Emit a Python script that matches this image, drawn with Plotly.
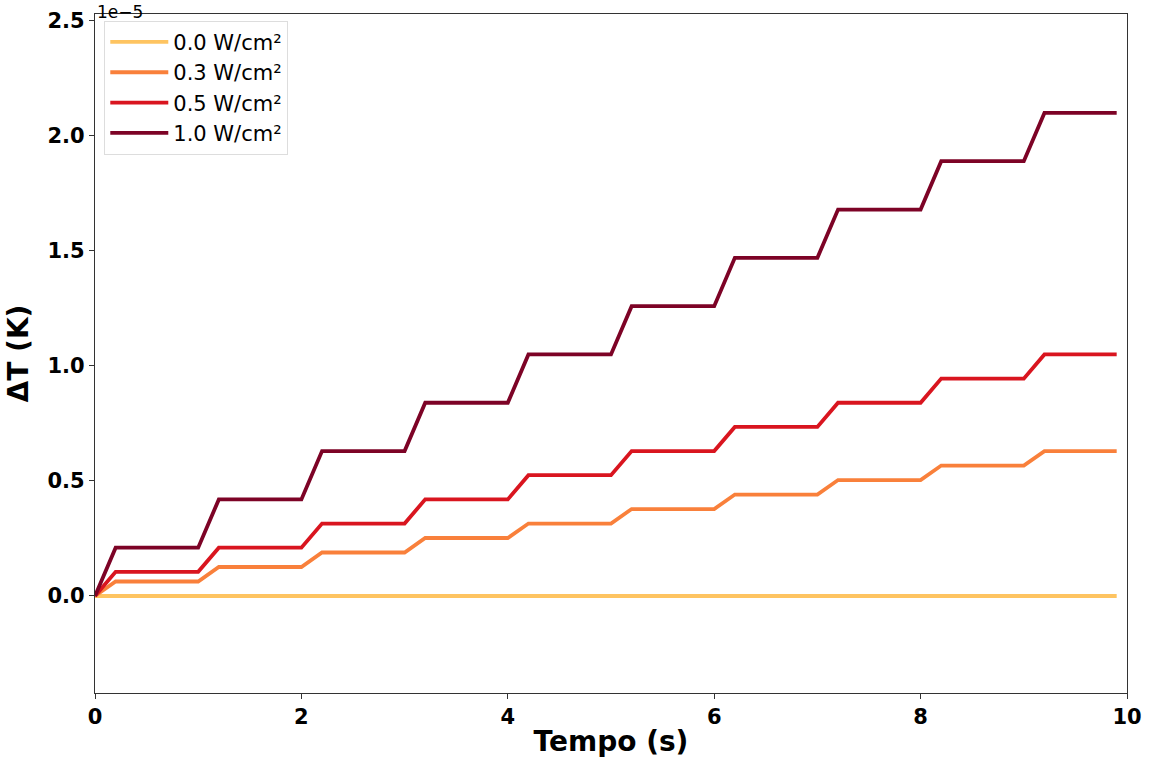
import plotly.graph_objects as go

# time samples (s)
tempo = [0.0, 0.2, 1.0, 1.2, 2.0, 2.2, 3.0, 3.2, 4.0, 4.2, 5.0, 5.2,
         6.0, 6.2, 7.0, 7.2, 8.0, 8.2, 9.0, 9.2, 9.9]

# ΔT values in units of 1e-5 K
dt_00 = [0.0] * 21
dt_03 = [0.0, 0.063, 0.063, 0.126, 0.126, 0.189, 0.189, 0.252, 0.252, 0.315, 0.315,
         0.378, 0.378, 0.441, 0.441, 0.504, 0.504, 0.567, 0.567, 0.630, 0.630]
dt_05 = [0.0, 0.105, 0.105, 0.210, 0.210, 0.315, 0.315, 0.420, 0.420, 0.525, 0.525,
         0.630, 0.630, 0.735, 0.735, 0.840, 0.840, 0.945, 0.945, 1.050, 1.050]
dt_10 = [0.0, 0.21, 0.21, 0.42, 0.42, 0.63, 0.63, 0.84, 0.84, 1.05, 1.05,
         1.26, 1.26, 1.47, 1.47, 1.68, 1.68, 1.89, 1.89, 2.10, 2.10]

labels = ["0.0 W/cm²", "0.3 W/cm²", "0.5 W/cm²", "1.0 W/cm²"]
series = [dt_00, dt_03, dt_05, dt_10]
colors = ["#fec461", "#f9803b", "#d9151f", "#7d0326"]

fig = go.Figure()
for lab, ys, c in zip(labels, series, colors):
    fig.add_trace(go.Scatter(x=tempo, y=ys, mode="lines", name=lab,
                             line=dict(color=c, width=3.8)))

axis_common = dict(
    showline=True, linecolor="#333333", linewidth=1.2, mirror=True,
    ticks="outside", ticklen=5, tickwidth=1.2, tickcolor="#333333",
    showgrid=False, zeroline=False, automargin=False,
    tickfont=dict(family="DejaVu Sans", size=21, color="black", weight="bold"),
)

fig.update_layout(
    width=1154, height=758,
    paper_bgcolor="white", plot_bgcolor="white",
    margin=dict(l=95, r=27, t=14, b=65),
    showlegend=True,
    legend=dict(x=0.009, y=0.99, xanchor="left", yanchor="top",
                bgcolor="rgba(255,255,255,0.9)", bordercolor="#dddddd", borderwidth=1,
                font=dict(family="DejaVu Sans", size=21, color="black"),
                tracegroupgap=0, itemwidth=58),
    xaxis=dict(range=[0, 10], tickvals=[0, 2, 4, 6, 8, 10],
               title=dict(text="Tempo (s)", standoff=4,
                          font=dict(family="DejaVu Sans", size=28, color="black", weight="bold")),
               **axis_common),
    yaxis=dict(range=[-0.4217, 2.530], tickvals=[0.0, 0.5, 1.0, 1.5, 2.0, 2.5],
               tickformat=".1f",
               title=dict(text="ΔT (K)", standoff=10,
                          font=dict(family="DejaVu Sans", size=28, color="black", weight="bold")),
               **axis_common),
    annotations=[dict(text="1e−5", xref="paper", yref="paper", x=0, y=1,
                      xanchor="left", yanchor="top", yshift=14, showarrow=False,
                      font=dict(family="DejaVu Sans", size=17, color="black"))],
)

fig.write_html("out.html")
